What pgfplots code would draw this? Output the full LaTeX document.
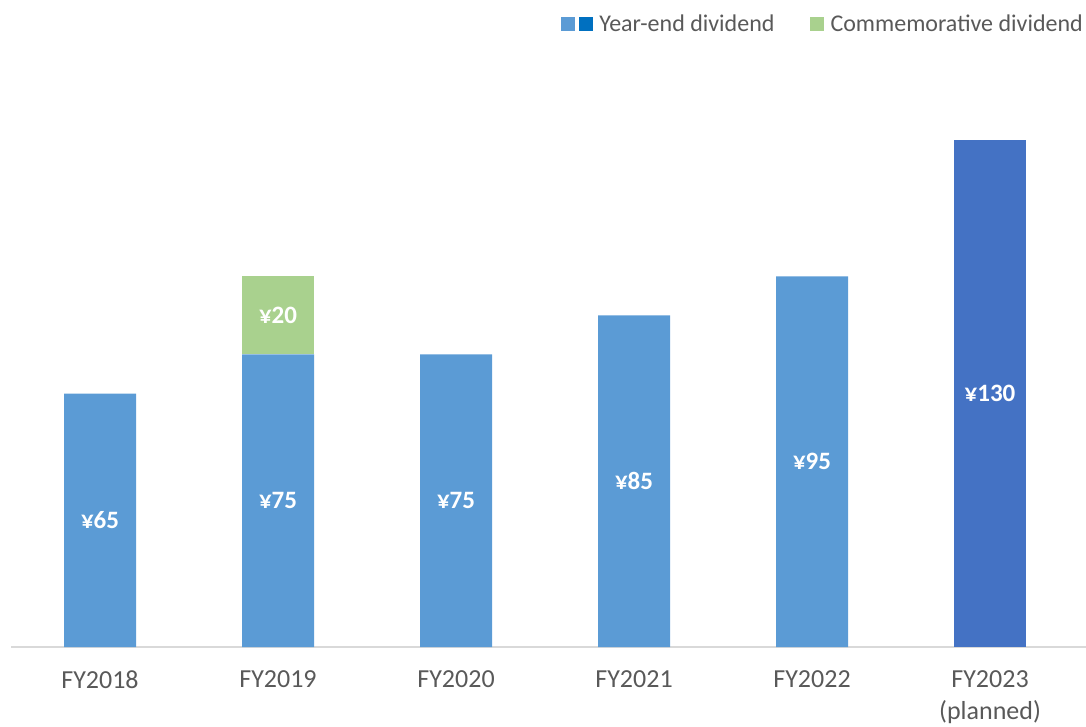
\documentclass[border=0pt]{standalone}
\usepackage{fontspec}
\setmainfont{Carlito}
\usepackage{pgfplots}
\pgfplotsset{compat=1.18}
\definecolor{ybluel}{HTML}{5B9BD5}
\definecolor{ybluedark}{HTML}{4472C4}
\definecolor{legdark}{HTML}{0070C0}
\definecolor{cgreen}{HTML}{A9D18E}
\definecolor{txtgray}{HTML}{595959}
\definecolor{axgray}{HTML}{D9D9D9}
\begin{document}
\begin{tikzpicture}[x=1pt,y=1pt]
\useasboundingbox (0,0) rectangle (1086,726);
\pgfplotsset{common/.style={
  scale only axis, width=1075pt, height=565.5pt,
  at={(11pt,79pt)}, anchor=south west,
  xmin=-0.5, xmax=5.539, ymin=0, ymax=145,
}}
\begin{axis}[common, ybar stacked, bar width=72pt,
  axis y line=none, axis x line*=bottom,
  x axis line style={draw=axgray, line width=2pt, -},
  xtick={0,...,5},
  xticklabels={FY2018,FY2019,FY2020,FY2021,FY2022,{FY2023\\(planned)}},
  xticklabel style={font=\fontsize{26}{32}\selectfont, text=txtgray, align=center, yshift=-20pt},
  major tick length=0pt,
  legend columns=2,
  legend style={at={(1,1.1017)}, anchor=east, draw=none, fill=none,
    font=\fontsize{24}{28}\selectfont, text=txtgray, inner sep=0pt,
    nodes={inner xsep=3pt},
    /tikz/every even column/.append style={column sep=32pt}},
  legend cell align=left,
]
\addplot[fill=ybluel, draw=none,
  legend image code/.code={\fill[ybluel] (0pt,-7pt) rectangle (14pt,7pt); \fill[legdark] (18pt,-7pt) rectangle (32pt,7pt); \path (35pt,0pt);}]
  coordinates {(0,65) (1,75) (2,75) (3,85) (4,95) (5,0)};
\addlegendentry{Year-end dividend}
\addplot[fill=cgreen, draw=none,
  legend image code/.code={\fill[cgreen] (0pt,-7pt) rectangle (14pt,7pt); \path (18pt,0pt);}]
  coordinates {(0,0) (1,20) (2,0) (3,0) (4,0) (5,0)};
\addlegendentry{Commemorative dividend}
\addplot[fill=ybluedark, draw=none, forget plot]
  coordinates {(0,0) (1,0) (2,0) (3,0) (4,0) (5,130)};
\end{axis}
\begin{axis}[common, hide axis]
\addplot[only marks, mark=*, mark size=0pt, mark options={draw=none,fill=none},
  nodes near coords={\pgfplotspointmeta}, point meta=explicit symbolic,
  every node near coord/.append style={anchor=center, text=white, font=\fontsize{25}{29}\selectfont\bfseries}]
  table[meta=label] {
x y label
0 32.5 ¥65
1 37.5 ¥75
1 85 ¥20
2 37.5 ¥75
3 42.5 ¥85
4 47.5 ¥95
5 65 ¥130
};
\end{axis}
\end{tikzpicture}
\end{document}
